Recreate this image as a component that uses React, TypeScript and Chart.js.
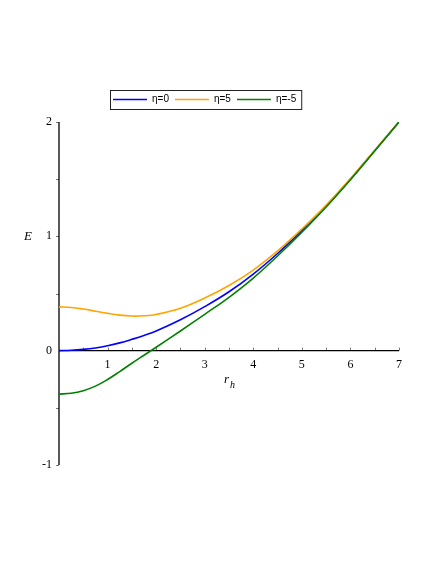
import React, { useEffect, useRef } from "react";
import { Chart, registerables } from "chart.js";

Chart.register(...registerables);

// ---- data ----
const rh = [0, 0.25, 0.5, 0.75, 1, 1.25, 1.5, 1.75, 2, 2.5, 3, 3.5, 4, 4.5, 5, 5.5, 6, 6.5, 7];
const E_eta0 = [0, 0.003, 0.011, 0.024, 0.043, 0.068, 0.099, 0.133, 0.172, 0.27, 0.385, 0.515, 0.67, 0.85, 1.05, 1.265, 1.5, 1.75, 2.0];
const E_eta5 = [0.383, 0.378, 0.364, 0.345, 0.326, 0.311, 0.303, 0.305, 0.317, 0.37, 0.46, 0.57, 0.705, 0.872, 1.064, 1.273, 1.505, 1.753, 2.0];
const E_etaM5 = [-0.38, -0.373, -0.35, -0.31, -0.252, -0.183, -0.11, -0.04, 0.03, 0.172, 0.318, 0.467, 0.635, 0.828, 1.036, 1.257, 1.495, 1.747, 2.0];

const seriesLabels = ["η=0", "η=5", "η=-5"];
const seriesColors = ["#0000ff", "#ffa500", "#008000"];

const xTicks = [1, 2, 3, 4, 5, 6, 7];
const xTickLabels = ["1", "2", "3", "4", "5", "6", "7"];
const yTicks = [-1, 0, 1, 2];
const yTickLabels = ["-1", "0", "1", "2"];
const xMinorTicks = [0.5, 1, 1.5, 2, 2.5, 3, 3.5, 4, 4.5, 5, 5.5, 6, 6.5, 7];
const yMinorTicks = [-1, -0.5, 0.5, 1, 1.5, 2];

const X_MIN = 0;
const X_MAX = 7;
const Y_MIN = -1;
const Y_MAX = 2;

const axesPlugin = {
  id: "mapleAxes",
  beforeDatasetsDraw(chart: any) {
    const { ctx } = chart;
    const x = chart.scales.x;
    const y = chart.scales.y;
    const x0 = x.getPixelForValue(0);
    const y0 = y.getPixelForValue(0);
    ctx.save();
    // small ticks
    ctx.strokeStyle = "#777";
    ctx.lineWidth = 1;
    ctx.beginPath();
    yMinorTicks.forEach((v) => {
      const py = Math.round(y.getPixelForValue(v)) + 0.5;
      ctx.moveTo(x0 - 3, py);
      ctx.lineTo(x0, py);
    });
    xMinorTicks.forEach((v) => {
      const px = Math.round(x.getPixelForValue(v)) + 0.5;
      ctx.moveTo(px, y0);
      ctx.lineTo(px, y0 - 3);
    });
    ctx.stroke();
    // axis lines
    ctx.strokeStyle = "#000";
    ctx.lineWidth = 1.3;
    ctx.beginPath();
    ctx.moveTo(x0, y.getPixelForValue(Y_MIN));
    ctx.lineTo(x0, y.getPixelForValue(Y_MAX));
    ctx.moveTo(x0, y0);
    ctx.lineTo(x.getPixelForValue(X_MAX), y0);
    ctx.stroke();
    // tick labels
    ctx.fillStyle = "#000";
    ctx.font = "12px 'Liberation Serif', serif";
    ctx.textAlign = "right";
    ctx.textBaseline = "middle";
    yTicks.forEach((v, i) => ctx.fillText(yTickLabels[i], x0 - 7, y.getPixelForValue(v)));
    ctx.textAlign = "center";
    xTicks.forEach((v, i) => ctx.fillText(xTickLabels[i], x.getPixelForValue(v), y0 + 14));
    // axis titles
    ctx.font = "italic 13px 'Liberation Serif', serif";
    ctx.textAlign = "center";
    ctx.fillText("E", 28, y.getPixelForValue(1));
    const cx = x.getPixelForValue((X_MIN + X_MAX) / 2);
    ctx.textAlign = "left";
    ctx.textBaseline = "alphabetic";
    ctx.fillText("r", cx - 5, y0 + 32);
    ctx.font = "italic 10px 'Liberation Serif', serif";
    ctx.fillText("h", cx + 1, y0 + 37);
    ctx.restore();
  },
  afterDraw(chart: any) {
    const { ctx } = chart;
    ctx.save();
    ctx.font = "10px 'Liberation Sans', Arial, sans-serif";
    ctx.textBaseline = "middle";
    ctx.textAlign = "left";
    const left = 110;
    const top = 90;
    const h = 19;
    const cy = top + h / 2;
    let cursor = left + 3;
    seriesLabels.forEach((lab, i) => {
      ctx.strokeStyle = seriesColors[i];
      ctx.lineWidth = 1.6;
      ctx.beginPath();
      ctx.moveTo(cursor, cy);
      ctx.lineTo(cursor + 34, cy);
      ctx.stroke();
      ctx.fillStyle = "#000";
      ctx.fillText(lab, cursor + 39, cy);
      cursor = cursor + 39 + ctx.measureText(lab).width + 6;
    });
    const right = cursor - 1;
    ctx.strokeStyle = "#222";
    ctx.lineWidth = 1;
    ctx.strokeRect(left + 0.5, top + 0.5, right - left, h);
    ctx.restore();
  },
};

function toPoints(ys: number[]) {
  return rh.map((v, i) => ({ x: v, y: ys[i] }));
}

export default function App() {
  const canvasRef = useRef<HTMLCanvasElement | null>(null);

  useEffect(() => {
    if (!canvasRef.current) return;
    const seriesValues = [E_eta0, E_eta5, E_etaM5];
    const drawOrder = [3, 2, 1];
    const chart = new Chart(canvasRef.current, {
      type: "line",
      data: {
        datasets: seriesValues.map((ys, i) => ({
          label: seriesLabels[i],
          data: toPoints(ys),
          borderColor: seriesColors[i],
          backgroundColor: seriesColors[i],
          borderWidth: 1.6,
          pointRadius: 0,
          tension: 0.4,
          fill: false,
          order: drawOrder[i],
        })),
      },
      options: {
        responsive: false,
        animation: false,
        devicePixelRatio: 1,
        layout: { padding: { left: 59, right: 37, top: 122, bottom: 99 } },
        plugins: {
          legend: { display: false },
          tooltip: { enabled: false },
        },
        events: [],
        scales: {
          x: { type: "linear", min: X_MIN, max: X_MAX, display: false },
          y: { type: "linear", min: Y_MIN, max: Y_MAX, display: false },
        },
      },
      plugins: [axesPlugin],
    });
    return () => chart.destroy();
  }, []);

  return (
    <div style={{ position: "absolute", left: 0, top: 0, width: 436, height: 564, background: "#fff" }}>
      <canvas ref={canvasRef} width={436} height={564} style={{ display: "block" }} />
    </div>
  );
}
